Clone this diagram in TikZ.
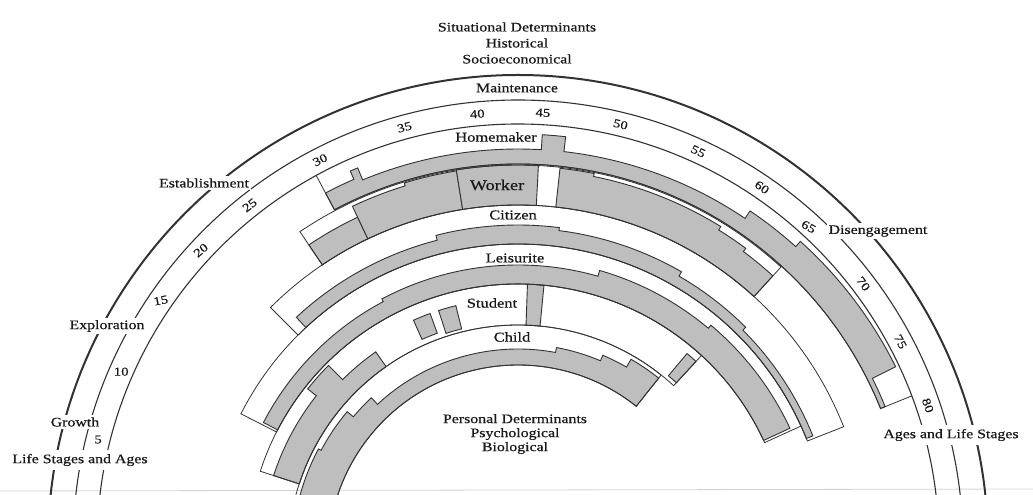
\documentclass[tikz,border=0pt]{standalone}
\usepackage{fontspec}
\setmainfont{Liberation Serif}[FakeStretch=1.22,FakeBold=0.6]
\definecolor{gfill}{RGB}{190,190,190}
\definecolor{lin}{RGB}{50,50,50}
\definecolor{txt}{RGB}{25,25,25}
\newcommand{\rsg}[3]{-- (#1:#3) arc[start angle=#1,end angle=#2,radius=#3]}
\newcommand{\annsec}[4]{(#1:#3) -- (#1:#4) arc[start angle=#1,end angle=#2,radius=#4] -- (#2:#3) arc[start angle=#2,end angle=#1,radius=#3] -- cycle}
\begin{document}
\begin{tikzpicture}[x=1pt,y=1pt,
  gr/.style={fill=gfill,draw=lin,line width=0.9pt,line join=miter},
  bl/.style={draw=lin,line width=0.8pt},
  stg/.style={draw=lin,line width=1.1pt},
  lab/.style={font=\fontsize{13}{15}\selectfont,text=txt,inner sep=1pt},
  slab/.style={lab,fill=white,inner sep=2pt},
  role/.style={font=\fontsize{13.5}{15}\selectfont,text=txt,inner sep=1pt},
  age/.style={font=\fontsize{12}{14}\selectfont,text=txt,inner sep=0.5pt}]
\useasboundingbox (0,0) rectangle (1033,495);
\clip (0,0) rectangle (1033,495);
\draw[gray!35,line width=0.8pt] (0,4) -- (1033,6);
% ---------- stage ring ----------
\begin{scope}[shift={(518,-50)}]
  \draw[draw=lin,line width=2pt] (180:470) arc[start angle=180,end angle=0,radius=470];
  \draw[stg] (180:445) arc[start angle=180,end angle=0,radius=445];
  \draw[stg] (180:421) arc[start angle=180,end angle=0,radius=421];
  \node[age] (a5)  at (165.9:433) {5};
  \node[age]            (a10) at (156.4:433) {10};
  \node[age,rotate=10]  (a15) at (145.6:433) {15};
  \node[age,rotate=40]  (a20) at (137.1:433) {20};
  \node[age,rotate=38]  (a25) at (128.3:433) {25};
  \node[age,rotate=27]  (a30) at (117.2:433) {30};
  \node[age,rotate=15]  (a35) at (105.2:433) {35};
  \node[age,rotate=5]   (a40) at (95.4:433) {40};
  \node[age,rotate=-3]  (a45) at (86.7:433) {45};
  \node[age,rotate=-14] (a50) at (76.3:433) {50};
  \node[age,rotate=-25] (a55) at (65.4:433) {55};
  \node[age,rotate=-35] (a60) at (55.7:433) {60};
  \node[age,rotate=-30] (a65) at (47.6:431) {65};
  \node[age,rotate=-53] (a70) at (37.1:433) {70};
  \node[age,rotate=-62] (a75) at (28:433) {75};
  \node[age,rotate=-70] (a80) at (18.8:433) {80};
\end{scope}
% ---------- role bands ----------
\begin{scope}[shift={(518,-60)}]
  % Child
  \filldraw[gr] (185:190) \rsg{185}{152}{226} \rsg{152}{140}{223} \rsg{140}{133}{215} \rsg{133}{79.5}{206} \rsg{79.5}{67}{211} \rsg{67}{60}{217} \rsg{60}{51.5}{226} -- (51.5:190) arc[start angle=51.5,end angle=185,radius=190] -- cycle;
  \draw[bl] \annsec{185}{51.5}{190}{230};
  % Student
  \filldraw[gr] (162:230) \rsg{162}{141.7}{257} \rsg{141.7}{135}{268} \rsg{135}{125}{248} -- (125:230) arc[start angle=125,end angle=162,radius=230] -- cycle;
  \filldraw[gr] \annsec{114}{110}{236}{257};
  \filldraw[gr] \annsec{108}{104}{233}{257};
  \filldraw[gr] \annsec{88}{84.5}{230}{271};
  \filldraw[gr] \annsec{50}{47.4}{234}{263};
  \draw[bl] \annsec{162}{47.4}{230}{271};
  % Leisurite
  \filldraw[gr] (152.5:271) \rsg{152.5}{118}{287} \rsg{118}{74}{290} \rsg{74}{50}{296} \rsg{50}{25}{300} -- (25:271) arc[start angle=25,end angle=152.5,radius=271] -- cycle;
  \draw[bl] \annsec{153}{24.5}{271}{311};
  % Citizen
  \filldraw[gr] (133:311) \rsg{133}{104.4}{325} \rsg{104.4}{82.8}{330} \rsg{82.8}{60}{327} \rsg{60}{45}{322} \rsg{45}{22}{318} -- (22:311) arc[start angle=22,end angle=133,radius=311] -- cycle;
  \draw[bl] \annsec{135}{21.5}{311}{350};
  % Worker
  \filldraw[gr] (124:350) \rsg{124}{115.4}{374} -- (115.4:350) arc[start angle=115.4,end angle=124,radius=350] -- cycle;
  \filldraw[gr] (115.4:350) \rsg{115.4}{107}{386} \rsg{107}{99.1}{389} -- (99.1:350) arc[start angle=99.1,end angle=115.4,radius=350] -- cycle;
  \filldraw[gr] \annsec{99.1}{87}{350}{390};
  \filldraw[gr] (83.8:350) \rsg{83.8}{78.7}{389} \rsg{78.7}{58.3}{386} \rsg{58.3}{53.4}{382} \rsg{53.4}{47.6}{378} -- (47.6:350) arc[start angle=47.6,end angle=83.8,radius=350] -- cycle;
  \draw[bl] \annsec{124}{47.6}{350}{390};
  % Homemaker
  \filldraw[gr] (118:391) \rsg{118}{113.6}{410} \rsg{113.6}{112.5}{419} \rsg{112.5}{86.7}{406} \rsg{86.7}{83.5}{421} \rsg{83.5}{56}{406} \rsg{56}{48}{415} \rsg{48}{26.5}{422} \rsg{26.5}{22}{396} -- (22:391) arc[start angle=22,end angle=118,radius=391] -- cycle;
  \draw[bl] (118:430) -- (118:391) arc[start angle=118,end angle=22,radius=391] -- (22:425);
\end{scope}
% ---------- role labels ----------
\node[role] (homemaker) at (496,358) {Homemaker};
\node[role,font=\fontsize{15}{16}\selectfont] (worker) at (497,310) {Worker};
\node[role] (citizen) at (513,280) {Citizen};
\node[role] (leisurite) at (515,237) {Leisurite};
\node[role] (student) at (492,192) {Student};
\node[role] (child) at (512,158) {Child};
% ---------- stage labels ----------
\node[lab,align=center,fill=white] (situ) at (517,452) {Situational Determinants\\[1pt]Historical\\[1pt]Socioeconomical};
\node[slab] (maint) at (517,407) {Maintenance};
\node[slab] (estab) at (204,312) {Establishment};
\node[slab] (explo) at (107,169) {Exploration};
\node[slab] (growth) at (75,73) {Growth};
\node[slab,inner ysep=4pt] (lsa) at (80,35) {Life Stages and Ages};
\node[slab] (diseng) at (878,264) {Disengagement};
\node[slab,inner ysep=4pt] (alsa) at (951,60) {Ages and Life Stages};
\node[lab,align=center] (pers) at (515,61) {Personal Determinants\\[-1pt]Psychological\\[-1pt]Biological};
\end{tikzpicture}
\end{document}
